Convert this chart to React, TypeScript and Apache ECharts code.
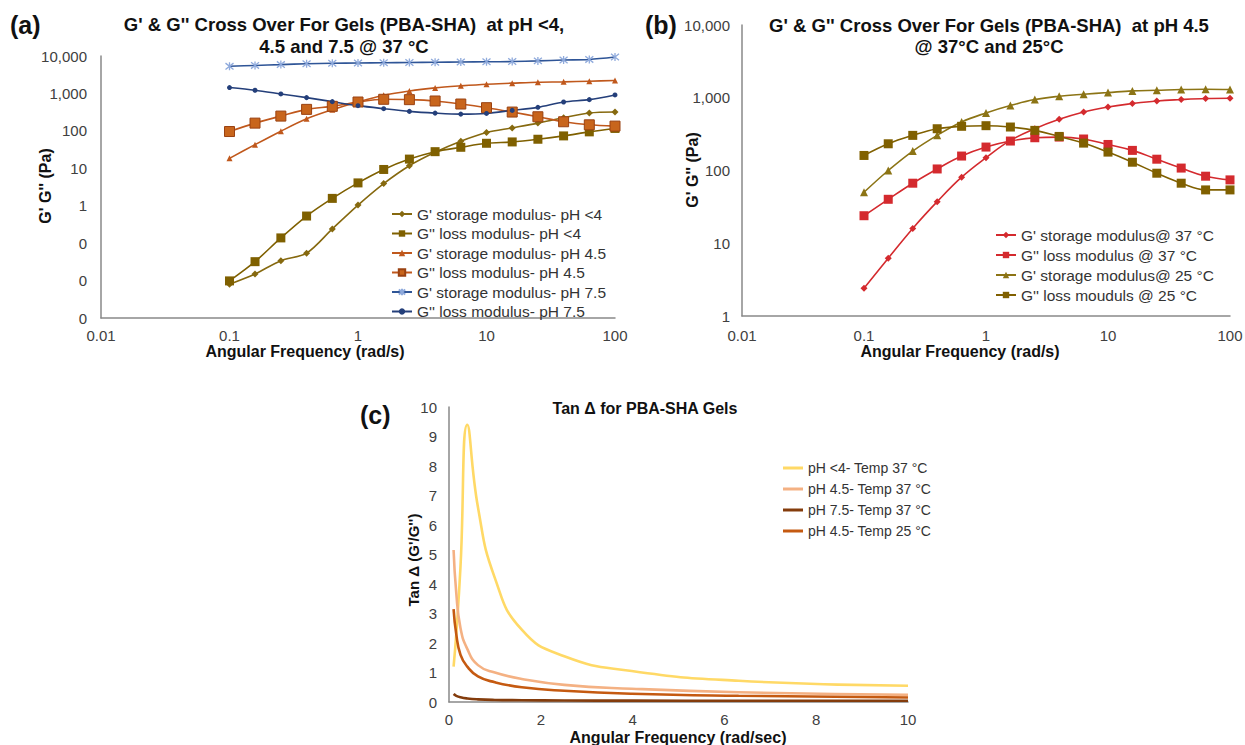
import React, { useEffect, useRef } from 'react';
import * as echarts from 'echarts';

const FONT = '"Liberation Sans", Arial, Helvetica, sans-serif';

// ---------- Panel (a) / (b) frequencies (rad/s) ----------
const FREQ = [0.1, 0.158, 0.251, 0.398, 0.631, 1, 1.585, 2.512, 3.981, 6.31, 10, 15.85, 25.12, 39.81, 63.1, 100];

// Panel (a): pH <4, 4.5, 7.5 @ 37 °C
const A_GP_PH4 = [0.008, 0.015, 0.034, 0.054, 0.24, 1.04, 3.9, 11.7, 26.7, 52.7, 90, 120, 161, 224, 299, 318];
const A_GPP_PH4 = [0.0098, 0.032, 0.138, 0.53, 1.57, 4.07, 9.3, 17.6, 27.8, 36.4, 46.6, 50.6, 59.7, 73.3, 94, 116];
const A_GP_PH45 = [18.4, 42.8, 98, 210, 367, 590, 893, 1167, 1405, 1592, 1767, 1880, 1997, 2037, 2123, 2213];
const A_GPP_PH45 = [96, 161, 248, 375, 452, 590, 697, 682, 628, 521, 416, 318, 238, 175, 145, 134];
const A_GP_PH75 = [5300, 5600, 5900, 6200, 6400, 6500, 6600, 6700, 6800, 6900, 7000, 7100, 7400, 7800, 8100, 9400];
const A_GPP_PH75 = [1435, 1217, 970, 773, 603, 471, 391, 331, 298, 280, 292, 352, 425, 590, 682, 912];

// Panel (b): pH 4.5 @ 37 °C and 25 °C
const B_GP_37 = [2.41, 6.24, 16.0, 37.3, 80.9, 150, 259, 375, 505, 638, 748, 832, 904, 944, 975, 985];
const B_GPP_37 = [23.9, 40.2, 66.9, 105, 158, 210, 254, 282, 288, 271, 228, 189, 143, 108, 83.5, 74.3];
const B_GP_25 = [50.2, 100, 185, 304, 464, 618, 780, 944, 1049, 1117, 1178, 1242, 1268, 1297, 1310, 1297];
const B_GPP_25 = [161, 233, 304, 375, 405, 413, 396, 356, 294, 238, 179, 130, 91.8, 66.9, 54.1, 54.1];

// Panel (c): Tan delta
const C_FREQ = [0.1, 0.158, 0.251, 0.398, 0.631, 1, 1.585, 2.512, 3.981, 6.31, 10];
const C_PH4_37 = [1.2, 2.3, 4.6, 9.4, 6.6, 4.2, 2.45, 1.55, 1.05, 0.72, 0.55];
const C_PH45_37 = [5.15, 3.7, 2.5, 1.8, 1.25, 1.0, 0.78, 0.58, 0.45, 0.33, 0.24];
const C_PH75_37 = [0.27, 0.21, 0.16, 0.12, 0.09, 0.07, 0.06, 0.05, 0.045, 0.04, 0.04];
const C_PH45_25 = [3.15, 2.3, 1.6, 1.2, 0.87, 0.67, 0.5, 0.38, 0.28, 0.21, 0.15];

const NAMES_A = [
  "G' storage modulus- pH <4",
  "G'' loss modulus- pH <4",
  "G' storage modulus- pH 4.5",
  "G'' loss modulus- pH 4.5",
  "G' storage modulus- pH 7.5",
  "G'' loss modulus- pH 7.5",
];
const NAMES_B = [
  "G' storage modulus@ 37 °C",
  "G'' loss modulus @ 37 °C",
  "G' storage modulus@ 25 °C",
  "G'' loss mouduls @ 25 °C",
];
const NAMES_C = [
  'pH <4- Temp 37 °C',
  'pH 4.5- Temp 37 °C',
  'pH 7.5- Temp 37 °C',
  'pH 4.5- Temp 25 °C',
];

const pairs = (xs: number[], ys: number[]) => xs.map((x, i) => [x, ys[i]]);

const STAR = 'path://M1,1L9,9M9,1L1,9M5,0L5,10';

const axisLine = { show: true, onZero: false, lineStyle: { color: '#898989', width: 1.5 } };
const labelBase = { color: '#404040', fontSize: 15, fontFamily: FONT };

const fmtX = (v: number) => String(+Number(v).toPrecision(2));
const fmtYA = (v: number) => (v >= 1 ? Math.round(v).toLocaleString('en-US') : '0');
const fmtYB = (v: number) => Math.round(v).toLocaleString('en-US');

function lineSeries(
  name: string,
  xi: number,
  data: number[][],
  color: string,
  symbol: string,
  size: number,
  extra: any = {}
) {
  return {
    type: 'line',
    name,
    xAxisIndex: xi,
    yAxisIndex: xi,
    data,
    smooth: 0.3,
    symbol,
    symbolSize: size,
    showSymbol: true,
    lineStyle: { color, width: 1.6 },
    itemStyle: { color, borderColor: color, borderWidth: 0 },
    emphasis: { disabled: true },
    ...extra,
  };
}

function tanSeries(name: string, ys: number[], color: string) {
  return {
    type: 'line',
    name,
    xAxisIndex: 2,
    yAxisIndex: 2,
    data: pairs(C_FREQ, ys),
    smooth: 0.5,
    showSymbol: false,
    symbol: 'none',
    lineStyle: { color, width: 2.6 },
    itemStyle: { color },
    emphasis: { disabled: true },
  };
}

function txt(text: string, x: number, y: number, font: string, align = 'center', rotation = 0) {
  return {
    type: 'text',
    x,
    y,
    rotation,
    silent: true,
    style: { text, font, fill: '#111', textAlign: align, textVerticalAlign: 'middle' },
  };
}

const TITLE_FONT = `bold 18.5px ${FONT}`;
const AXT_FONT = `bold 16px ${FONT}`;
const TAG_FONT = `bold 25px ${FONT}`;

const option: any = {
  animation: false,
  backgroundColor: '#ffffff',
  textStyle: { fontFamily: FONT },
  grid: [
    { left: 101, top: 56, width: 514, height: 262, outerBoundsMode: 'none', containLabel: false },
    { left: 742, top: 25, width: 488, height: 291, outerBoundsMode: 'none', containLabel: false },
    { left: 449, top: 407, width: 459, height: 295, outerBoundsMode: 'none', containLabel: false },
  ],
  xAxis: [
    {
      type: 'log', gridIndex: 0, logBase: 10, min: 0.01, max: 100,
      axisLine, axisTick: { show: false }, splitLine: { show: false },
      axisLabel: { ...labelBase, formatter: fmtX, margin: 10, showMinLabel: true, showMaxLabel: true },
    },
    {
      type: 'log', gridIndex: 1, logBase: 10, min: 0.01, max: 100,
      axisLine, axisTick: { show: false }, splitLine: { show: false },
      axisLabel: { ...labelBase, formatter: fmtX, margin: 12, showMinLabel: true, showMaxLabel: true },
    },
    {
      type: 'value', gridIndex: 2, min: 0, max: 10, interval: 2,
      axisLine, axisTick: { show: false }, splitLine: { show: false },
      axisLabel: { ...labelBase, margin: 10 },
    },
  ],
  yAxis: [
    {
      type: 'log', gridIndex: 0, logBase: 10, min: 0.001, max: 10000,
      axisLine, axisTick: { show: false }, splitLine: { show: false },
      axisLabel: { ...labelBase, formatter: fmtYA, margin: 14, showMinLabel: true, showMaxLabel: true },
    },
    {
      type: 'log', gridIndex: 1, logBase: 10, min: 1, max: 10000,
      axisLine, axisTick: { show: false }, splitLine: { show: false },
      axisLabel: { ...labelBase, formatter: fmtYB, margin: 12, showMinLabel: true, showMaxLabel: true },
    },
    {
      type: 'value', gridIndex: 2, min: 0, max: 10, interval: 1,
      axisLine, axisTick: { show: false }, splitLine: { show: false },
      axisLabel: { ...labelBase, margin: 12 },
    },
  ],
  legend: [
    {
      data: NAMES_A, orient: 'vertical', left: 386, top: 201, itemWidth: 20, itemHeight: 8, itemGap: 3.5,
      selectedMode: false, textStyle: { fontSize: 15.5, color: '#333', fontFamily: FONT },
    },
    {
      data: NAMES_B, orient: 'vertical', left: 990, top: 222, itemWidth: 20, itemHeight: 8, itemGap: 4,
      selectedMode: false, textStyle: { fontSize: 15.5, color: '#333', fontFamily: FONT },
    },
    {
      data: NAMES_C, orient: 'vertical', left: 778, top: 456, itemWidth: 20, itemHeight: 3, itemGap: 7,
      icon: 'rect',
      selectedMode: false, textStyle: { fontSize: 14, color: '#333', fontFamily: FONT },
    },
  ],
  series: [
    lineSeries(NAMES_A[0], 0, pairs(FREQ, A_GP_PH4), '#86690f', 'diamond', 7),
    lineSeries(NAMES_A[1], 0, pairs(FREQ, A_GPP_PH4), '#7f6000', 'rect', 9),
    lineSeries(NAMES_A[2], 0, pairs(FREQ, A_GP_PH45), '#c0581c', 'triangle', 6),
    lineSeries(NAMES_A[3], 0, pairs(FREQ, A_GPP_PH45), '#c0581c', 'rect', 10, {
      itemStyle: { color: '#c8651c', borderColor: '#9a4212', borderWidth: 1 },
    }),
    lineSeries(NAMES_A[4], 0, pairs(FREQ, A_GP_PH75), '#2f5597', STAR, 8, {
      itemStyle: { color: '#8faadc', borderColor: '#8faadc', borderWidth: 1.3 },
    }),
    lineSeries(NAMES_A[5], 0, pairs(FREQ, A_GPP_PH75), '#243f7a', 'circle', 5),

    lineSeries(NAMES_B[0], 1, pairs(FREQ, B_GP_37), '#d42a2e', 'diamond', 7, { smooth: 0.4 }),
    lineSeries(NAMES_B[1], 1, pairs(FREQ, B_GPP_37), '#d42a2e', 'rect', 9, { smooth: 0.4 }),
    lineSeries(NAMES_B[2], 1, pairs(FREQ, B_GP_25), '#8c7415', 'triangle', 8, { smooth: 0.4 }),
    lineSeries(NAMES_B[3], 1, pairs(FREQ, B_GPP_25), '#806000', 'rect', 9, { smooth: 0.4 }),

    tanSeries(NAMES_C[0], C_PH4_37, '#ffd966'),
    tanSeries(NAMES_C[1], C_PH45_37, '#f4b183'),
    tanSeries(NAMES_C[2], C_PH75_37, '#843c0c'),
    tanSeries(NAMES_C[3], C_PH45_25, '#c55a11'),
  ],
  graphic: [
    txt('(a)', 10, 25, TAG_FONT, 'left'),
    txt('(b)', 645, 25, TAG_FONT, 'left'),
    txt('(c)', 360, 415, TAG_FONT, 'left'),
    txt("G' & G'' Cross Over For Gels (PBA-SHA)  at pH <4,", 344, 24, TITLE_FONT),
    txt('4.5 and 7.5 @ 37 °C', 344, 46, TITLE_FONT),
    txt("G' & G'' Cross Over For Gels (PBA-SHA)  at pH 4.5", 989, 25, TITLE_FONT),
    txt('@ 37°C and 25°C', 989, 46, TITLE_FONT),
    txt('Tan Δ for PBA-SHA Gels', 645, 408, `bold 16px ${FONT}`),
    txt('Angular Frequency (rad/s)', 305, 351, AXT_FONT),
    txt('Angular Frequency (rad/s)', 960, 351, AXT_FONT),
    txt('Angular Frequency (rad/sec)', 678, 737, AXT_FONT),
    txt("G' G'' (Pa)", 45, 186, AXT_FONT, 'center', Math.PI / 2),
    txt("G' G'' (Pa)", 692, 170, AXT_FONT, 'center', Math.PI / 2),
    txt("Tan Δ (G'/G'')", 413, 560, `bold 15px ${FONT}`, 'center', Math.PI / 2),
  ],
};

export default function App() {
  const ref = useRef<HTMLDivElement>(null);
  useEffect(() => {
    if (!ref.current) return;
    const chart = echarts.init(ref.current, undefined, { renderer: 'svg' });
    chart.setOption(option);
    return () => chart.dispose();
  }, []);
  return (
    <div
      ref={ref}
      style={{ position: 'absolute', left: 0, top: 0, width: 1245, height: 745, background: '#fff' }}
    />
  );
}
